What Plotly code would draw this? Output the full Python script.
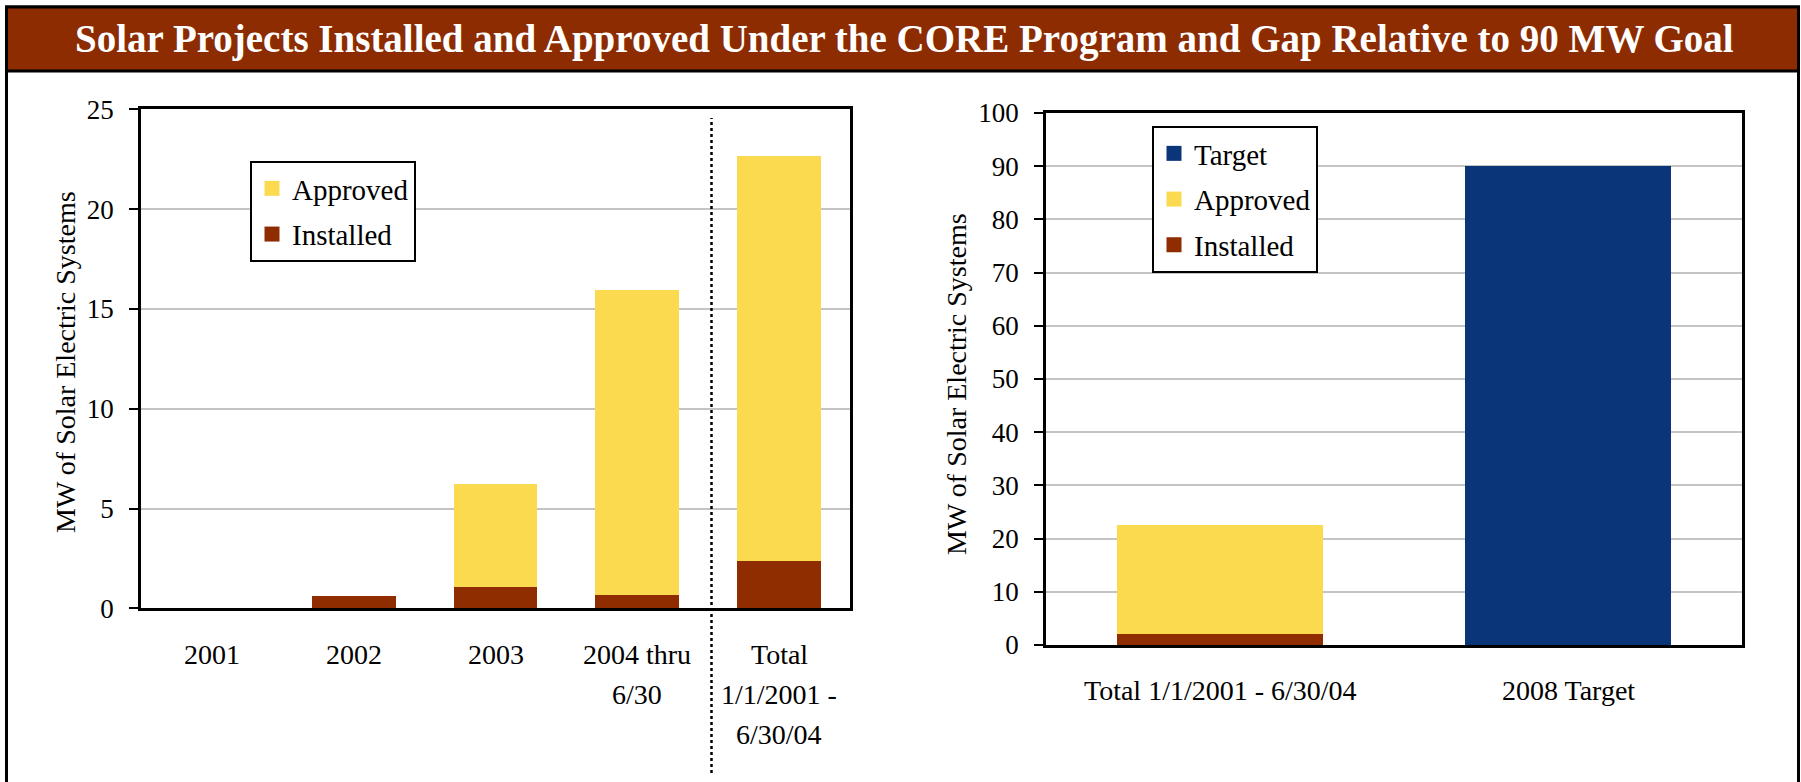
import plotly.graph_objects as go

# ---------------- data ----------------
left_categories = ["2001", "2002", "2003", "2004 thru 6/30", "Total 1/1/2001 - 6/30/04"]
left_label_lines = [["2001"], ["2002"], ["2003"], ["2004 thru", "6/30"], ["Total", "1/1/2001 -", "6/30/04"]]
left_installed = [0.0, 0.61, 1.08, 0.67, 2.38]
left_approved = [0.0, 0.0, 5.16, 15.29, 20.29]

right_categories = ["Total 1/1/2001 - 6/30/04", "2008 Target"]
right_installed = [2.1, None]
right_approved = [20.45, None]
right_target = [None, 90.0]

left_ticks = [0, 5, 10, 15, 20, 25]
right_ticks = [0, 10, 20, 30, 40, 50, 60, 70, 80, 90, 100]

left_legend_items = ["Approved", "Installed"]
right_legend_items = ["Target", "Approved", "Installed"]

title_text = "Solar Projects Installed and Approved Under the CORE Program and Gap Relative to 90 MW Goal"
y_title = "MW of Solar Electric Systems"

# ---------------- style ----------------
W, H = 1801, 782
FONT = "Liberation Serif"
COLORS = {"Approved": "#FCDA50", "Installed": "#8F2D00", "Target": "#0A3578"}
C_BAR = "#8C2C00"
GRID = "#C4C4C4"


def px_x(p):
    return p / W


def px_y(p):
    return 1 - p / H


fig = go.Figure()

# left chart (stacked)
fig.add_trace(go.Bar(x=left_categories, y=left_installed, name="Installed", marker_color=COLORS["Installed"],
                     marker_line_width=0, xaxis="x", yaxis="y", showlegend=False))
fig.add_trace(go.Bar(x=left_categories, y=left_approved, name="Approved", marker_color=COLORS["Approved"],
                     marker_line_width=0, xaxis="x", yaxis="y", showlegend=False))
# right chart
fig.add_trace(go.Bar(x=right_categories, y=right_installed, name="Installed", marker_color=COLORS["Installed"],
                     marker_line_width=0, xaxis="x2", yaxis="y2", showlegend=False))
fig.add_trace(go.Bar(x=right_categories, y=right_approved, name="Approved", marker_color=COLORS["Approved"],
                     marker_line_width=0, xaxis="x2", yaxis="y2", showlegend=False))
fig.add_trace(go.Bar(x=right_categories, y=right_target, name="Target", marker_color=COLORS["Target"],
                     marker_line_width=0, xaxis="x2", yaxis="y2", showlegend=False))

# legend entries with larger square swatches
for rank, name in enumerate(left_legend_items):
    fig.add_trace(go.Scatter(x=[None], y=[None], mode="markers", name=name,
                             marker=dict(symbol="square", size=15, color=COLORS[name]),
                             xaxis="x", yaxis="y", legend="legend", legendgroup="L" + name,
                             legendrank=rank + 1, hoverinfo="skip"))
for rank, name in enumerate(right_legend_items):
    fig.add_trace(go.Scatter(x=[None], y=[None], mode="markers", name=name,
                             marker=dict(symbol="square", size=15, color=COLORS[name]),
                             xaxis="x2", yaxis="y2", legend="legend2", legendgroup="R" + name,
                             legendrank=rank + 1, hoverinfo="skip"))

axis_common = dict(showline=True, linecolor="black", linewidth=2.5, mirror=True, automargin=False)
yaxis_common = dict(axis_common, ticks="outside", ticklen=9, tickwidth=2, tickcolor="black",
                    showgrid=True, gridcolor=GRID, gridwidth=2, zeroline=False,
                    ticklabelstandoff=10,
                    tickfont=dict(family=FONT, size=27, color="black"))

L_dom_x = [px_x(141), px_x(850)]
L_dom_y = [px_y(608.3), px_y(109.3)]
R_dom_x = [px_x(1046), px_x(1742)]
R_dom_y = [px_y(645), px_y(113)]

legend_common = dict(xanchor="left", yanchor="top", bordercolor="black", borderwidth=2,
                     bgcolor="white", font=dict(family=FONT, size=29, color="black"),
                     traceorder="grouped", tracegroupgap=5, itemsizing="trace")

fig.update_layout(
    template="none",
    width=W, height=H,
    margin=dict(l=0, r=0, t=0, b=0, pad=0, autoexpand=False),
    paper_bgcolor="white", plot_bgcolor="white",
    barmode="stack", bargap=0.41,
    showlegend=True,
    xaxis=dict(axis_common, type="category", domain=L_dom_x, anchor="y", showticklabels=False,
               ticks="", range=[-0.5, 4.5], showgrid=False, zeroline=False),
    yaxis=dict(yaxis_common, domain=L_dom_y, anchor="x", range=[0, 25], tickvals=left_ticks),
    xaxis2=dict(axis_common, type="category", domain=R_dom_x, anchor="y2", showticklabels=False,
                ticks="", range=[-0.5, 1.5], showgrid=False, zeroline=False),
    yaxis2=dict(yaxis_common, domain=R_dom_y, anchor="x2", range=[0, 100], tickvals=right_ticks),
    legend=dict(legend_common, x=px_x(250), y=px_y(161)),
    legend2=dict(legend_common, x=px_x(1152), y=px_y(126)),
)

shapes = []
# outer frame
shapes.append(dict(type="rect", xref="paper", yref="paper", x0=px_x(6.5), x1=px_x(1798.5),
                   y0=-0.05, y1=px_y(7), line=dict(color="black", width=3), layer="above"))
# title bar
shapes.append(dict(type="rect", xref="paper", yref="paper", x0=px_x(6.5), x1=px_x(1798.5),
                   y0=px_y(71), y1=px_y(7), fillcolor=C_BAR, line=dict(color="black", width=3),
                   layer="above"))
# dotted separator in left chart
shapes.append(dict(type="line", xref="paper", yref="paper", x0=px_x(711.5), x1=px_x(711.5),
                   y0=px_y(773), y1=px_y(118), line=dict(color="black", width=2.5, dash="dot"),
                   layer="above"))

annotations = []
annotations.append(dict(text="<b>" + title_text + "</b>", xref="paper", yref="paper",
                        x=px_x(904), y=px_y(39), xanchor="center", yanchor="middle", showarrow=False,
                        font=dict(family=FONT, size=39, color="white")))
# y-axis titles
annotations.append(dict(text=y_title, xref="paper", yref="paper", x=px_x(65), y=px_y(362),
                        xanchor="center", yanchor="middle", textangle=-90, showarrow=False,
                        font=dict(family=FONT, size=28, color="black")))
annotations.append(dict(text=y_title, xref="paper", yref="paper", x=px_x(956), y=px_y(384),
                        xanchor="center", yanchor="middle", textangle=-90, showarrow=False,
                        font=dict(family=FONT, size=28, color="black")))
# category labels (placed on the categorical axes by index)
for ci, lines in enumerate(left_label_lines):
    for i, line in enumerate(lines):
        annotations.append(dict(text=line, xref="x", yref="paper", x=ci, y=px_y(654 + 40.3 * i),
                                xanchor="center", yanchor="middle", showarrow=False,
                                font=dict(family=FONT, size=28, color="black")))
for ci, cat in enumerate(right_categories):
    annotations.append(dict(text=cat, xref="x2", yref="paper", x=ci, y=px_y(690),
                            xanchor="center", yanchor="middle", showarrow=False,
                            font=dict(family=FONT, size=28, color="black")))

fig.update_layout(shapes=shapes, annotations=annotations)

fig.write_html("out.html", config={"displayModeBar": False},
               post_script="document.body.style.margin='0';document.body.style.overflow='hidden';")
